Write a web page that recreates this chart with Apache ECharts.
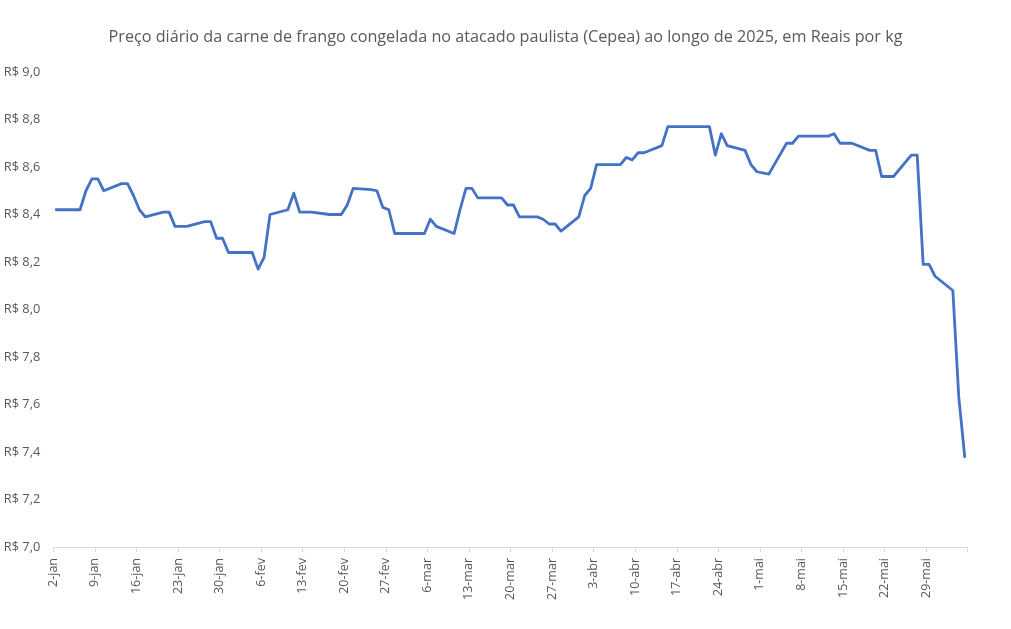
<!DOCTYPE html>
<html>
<head>
<meta charset="utf-8">
<script src="https://cdn.jsdelivr.net/npm/echarts@6/dist/echarts.min.js"></script>
<style>html,body{margin:0;padding:0;background:#fff}#c{width:1011px;height:629px}</style>
</head>
<body>
<div id="c"></div>
<script>
const titleText = 'Preço diário da carne de frango congelada no atacado paulista (Cepea) ao longo de 2025, em Reais por kg';
const dates = [
  '2025-01-02','2025-01-03','2025-01-06','2025-01-07','2025-01-08','2025-01-09','2025-01-10',
  '2025-01-13','2025-01-14','2025-01-15','2025-01-16','2025-01-17',
  '2025-01-20','2025-01-21','2025-01-22','2025-01-23','2025-01-24',
  '2025-01-27','2025-01-28','2025-01-29','2025-01-30','2025-01-31',
  '2025-02-03','2025-02-04','2025-02-05','2025-02-06','2025-02-07',
  '2025-02-10','2025-02-11','2025-02-12','2025-02-13','2025-02-14',
  '2025-02-17','2025-02-18','2025-02-19','2025-02-20','2025-02-21',
  '2025-02-24','2025-02-25','2025-02-26','2025-02-27','2025-02-28',
  '2025-03-05','2025-03-06','2025-03-07',
  '2025-03-10','2025-03-11','2025-03-12','2025-03-13','2025-03-14',
  '2025-03-17','2025-03-18','2025-03-19','2025-03-20','2025-03-21',
  '2025-03-24','2025-03-25','2025-03-26','2025-03-27','2025-03-28',
  '2025-03-31','2025-04-01','2025-04-02','2025-04-03','2025-04-04',
  '2025-04-07','2025-04-08','2025-04-09','2025-04-10','2025-04-11',
  '2025-04-14','2025-04-15','2025-04-16','2025-04-17',
  '2025-04-22','2025-04-23','2025-04-24','2025-04-25',
  '2025-04-28','2025-04-29','2025-04-30','2025-05-02',
  '2025-05-05','2025-05-06','2025-05-07','2025-05-08','2025-05-09',
  '2025-05-12','2025-05-13','2025-05-14','2025-05-15','2025-05-16',
  '2025-05-19','2025-05-20','2025-05-21','2025-05-22','2025-05-23',
  '2025-05-26','2025-05-27','2025-05-28','2025-05-29','2025-05-30',
  '2025-06-02','2025-06-03','2025-06-04'
];
const prices = [
  8.42,8.42,8.42,8.50,8.55,8.55,8.50,
  8.53,8.53,8.48,8.42,8.39,
  8.41,8.41,8.35,8.35,8.35,
  8.37,8.37,8.30,8.30,8.24,
  8.24,8.24,8.17,8.22,8.40,
  8.42,8.49,8.41,8.41,8.41,
  8.40,8.40,8.40,8.44,8.51,
  8.505,8.50,8.43,8.42,8.32,
  8.32,8.38,8.35,
  8.32,8.42,8.51,8.51,8.47,
  8.47,8.47,8.44,8.44,8.39,
  8.39,8.38,8.36,8.36,8.33,
  8.39,8.48,8.51,8.61,8.61,
  8.61,8.64,8.63,8.66,8.66,
  8.69,8.77,8.77,8.77,
  8.77,8.65,8.74,8.69,
  8.67,8.61,8.58,8.57,
  8.70,8.70,8.73,8.73,8.73,
  8.73,8.74,8.70,8.70,8.70,
  8.67,8.67,8.56,8.56,8.56,
  8.65,8.65,8.19,8.19,8.14,
  8.08,7.63,7.38
];
const monthNames = ['jan','fev','mar','abr','mai','jun','jul','ago','set','out','nov','dez'];
const axisStart = '2025-01-02';
const axisEnd = '2025-06-05';
const yTicks = {min: 7.0, max: 9.0, step: 0.2};

const DAY = 86400000;
const t0 = Date.parse(axisStart + 'T00:00:00Z');
const dayOf = s => (Date.parse(s + 'T00:00:00Z') - t0) / DAY;
const endDay = dayOf(axisEnd);
const seriesData = dates.map((d, i) => [dayOf(d) + 0.5, prices[i]]);

const chart = echarts.init(document.getElementById('c'));
chart.setOption({
  animation: false,
  title: {
    text: titleText, left: 'center', top: 24,
    textStyle: {fontFamily: 'Open Sans', fontSize: 16.2, fontWeight: 'normal', color: '#595959'}
  },
  grid: {left: 53.3, right: 43.3, top: 72, bottom: 82, containLabel: false},
  xAxis: {
    type: 'value', min: 0, max: endDay, interval: 7,
    splitLine: {show: false},
    axisLine: {show: true, lineStyle: {color: '#d9d9d9', width: 1}},
    axisTick: {show: true, length: 5, lineStyle: {color: '#d9d9d9'}},
    axisLabel: {
      rotate: 90, margin: 11, color: '#595959', fontFamily: 'Open Sans', fontSize: 12.5,
      showMaxLabel: true,
      formatter: v => {
        if (v >= endDay) return '';
        const d = new Date(t0 + v * DAY);
        return d.getUTCDate() + '-' + monthNames[d.getUTCMonth()];
      }
    }
  },
  yAxis: {
    type: 'value', min: yTicks.min, max: yTicks.max, interval: yTicks.step,
    splitLine: {show: false},
    axisLine: {show: false}, axisTick: {show: false},
    axisLabel: {
      margin: 13, color: '#595959', fontFamily: 'Open Sans', fontSize: 12.8,
      formatter: v => 'R$ ' + v.toFixed(1).replace('.', ',')
    }
  },
  series: [{
    type: 'line', data: seriesData, showSymbol: false, symbol: 'none',
    lineStyle: {color: '#4472C4', width: 2.8, join: 'round', cap: 'round'}
  }]
});
</script>
</body>
</html>
